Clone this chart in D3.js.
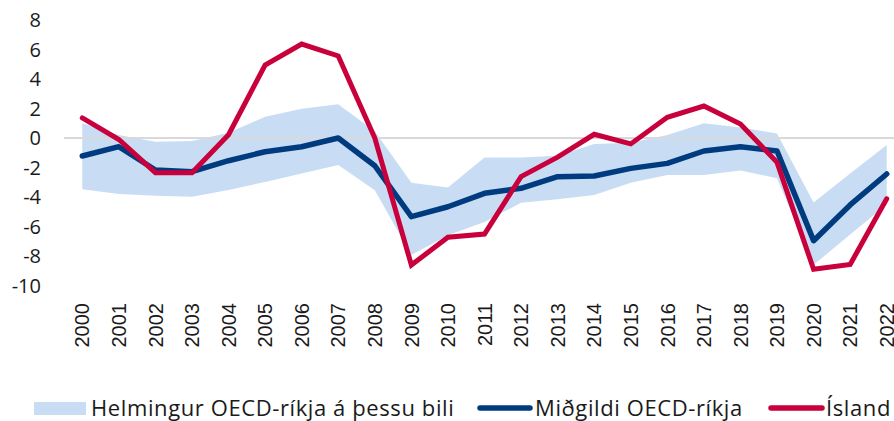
<!DOCTYPE html>
<html>
<head>
<meta charset="utf-8">
<script src="https://cdn.jsdelivr.net/npm/d3@7"></script>
<style>
  body { margin: 0; background: #fff; }
  svg text { font-family: "Open Sans", "Noto Sans", sans-serif; fill: #1a1a1a; }
  svg text.xtick { font-family: "Liberation Sans", Arial, sans-serif; }
  svg .legend text { letter-spacing: 0.6px; }
</style>
</head>
<body>
<svg id="chart" width="894" height="421"></svg>
<script>
(function () {
  'use strict';

  var years = ['2000', '2001', '2002', '2003', '2004', '2005', '2006', '2007', '2008', '2009', '2010', '2011',
    '2012', '2013', '2014', '2015', '2016', '2017', '2018', '2019', '2020', '2021', '2022'];
  // upper and lower bounds of the middle half of OECD countries
  var bandUpper = [1.0, 0.2, -0.25, -0.2, 0.35, 1.44, 1.98, 2.28, 0.45, -3.03, -3.35, -1.33,
    -1.33, -1.2, -0.4, -0.32, 0.2, 1.0, 0.72, 0.3, -4.38, -2.4, -0.47];
  var bandLower = [-3.48, -3.8, -3.91, -3.98, -3.52, -2.98, -2.4, -1.83, -3.55, -7.93, -6.6, -5.7,
    -4.39, -4.16, -3.86, -3.03, -2.5, -2.5, -2.2, -2.73, -8.6, -6.55, -4.5];
  var median = [-1.22, -0.59, -2.17, -2.28, -1.54, -0.93, -0.59, 0.0, -1.88, -5.33, -4.66, -3.75,
    -3.41, -2.62, -2.58, -2.06, -1.72, -0.88, -0.59, -0.88, -6.96, -4.54, -2.44];
  var iceland = [1.36, -0.1, -2.35, -2.35, 0.22, 4.95, 6.37, 5.56, 0.0, -8.61, -6.73, -6.51,
    -2.62, -1.3, 0.25, -0.4, 1.4, 2.17, 0.95, -1.65, -8.9, -8.57, -4.12];
  var yTicks = [8, 6, 4, 2, 0, -2, -4, -6, -8, -10];
  var legendLabels = ['Helmingur OECD-ríkja á þessu bili', 'Miðgildi OECD-ríkja', 'Ísland'];

  var colBand = '#c8ddf4';
  var colMedian = '#003b80';
  var colIceland = '#c8003c';

  var svg = d3.select('#chart');

  var x = d3.scaleBand()
    .domain(years)
    .range([64, 905])
    .padding(0);

  var y = d3.scaleLinear()
    .domain([-10, 8])
    .range([285.5, 20]);

  function cx (i) {
    return x(years[i]) + x.bandwidth() / 2;
  }

  // band
  var area = d3.area()
    .x(function (d, i) { return cx(i); })
    .y0(function (d, i) { return y(bandLower[i]); })
    .y1(function (d, i) { return y(bandUpper[i]); });

  svg.append('path')
    .datum(years)
    .attr('d', area)
    .attr('fill', colBand);

  // zero line
  svg.append('line')
    .attr('x1', 64)
    .attr('x2', 894)
    .attr('y1', y(0))
    .attr('y2', y(0))
    .attr('stroke', '#d9d9d9')
    .attr('stroke-width', 2);

  var line = d3.line()
    .x(function (d, i) { return cx(i); })
    .y(function (d) { return y(d); });

  svg.append('path')
    .datum(median)
    .attr('d', line)
    .attr('fill', 'none')
    .attr('stroke', colMedian)
    .attr('stroke-width', 5.5)
    .attr('stroke-linejoin', 'round')
    .attr('stroke-linecap', 'round');

  svg.append('path')
    .datum(iceland)
    .attr('d', line)
    .attr('fill', 'none')
    .attr('stroke', colIceland)
    .attr('stroke-width', 5)
    .attr('stroke-linejoin', 'miter')
    .attr('stroke-linecap', 'round');

  // y tick labels
  svg.selectAll('.ytick')
    .data(yTicks)
    .enter()
    .append('text')
    .attr('class', 'ytick')
    .attr('x', 41)
    .attr('y', function (d) { return y(d); })
    .attr('dy', '0.36em')
    .attr('text-anchor', 'end')
    .style('font-size', '20px')
    .text(function (d) { return d; });

  // x tick labels, rotated
  svg.selectAll('.xtick')
    .data(years)
    .enter()
    .append('text')
    .attr('class', 'xtick')
    .attr('transform', function (d) {
      return 'translate(' + (x(d) + x.bandwidth() / 2) + ',303) rotate(-90)';
    })
    .attr('dy', '0.36em')
    .attr('text-anchor', 'end')
    .style('font-size', '20px')
    .text(function (d) { return d; });

  // legend
  var lg = svg.append('g').attr('class', 'legend');
  lg.append('rect')
    .attr('x', 34).attr('y', 402)
    .attr('width', 52).attr('height', 13)
    .attr('fill', colBand);
  lg.append('text')
    .attr('x', 91).attr('y', 408).attr('dy', '0.36em')
    .style('font-size', '22px')
    .text(legendLabels[0]);

  lg.append('line')
    .attr('x1', 480).attr('x2', 530)
    .attr('y1', 408).attr('y2', 408)
    .attr('stroke', colMedian).attr('stroke-width', 5.5)
    .attr('stroke-linecap', 'round');
  lg.append('text')
    .attr('x', 535).attr('y', 408).attr('dy', '0.36em')
    .style('font-size', '22px')
    .text(legendLabels[1]);

  lg.append('line')
    .attr('x1', 771).attr('x2', 822)
    .attr('y1', 408).attr('y2', 408)
    .attr('stroke', colIceland).attr('stroke-width', 5.5)
    .attr('stroke-linecap', 'round');
  lg.append('text')
    .attr('x', 826).attr('y', 408).attr('dy', '0.36em')
    .style('font-size', '22px')
    .text(legendLabels[2]);
}());
</script>
</body>
</html>
